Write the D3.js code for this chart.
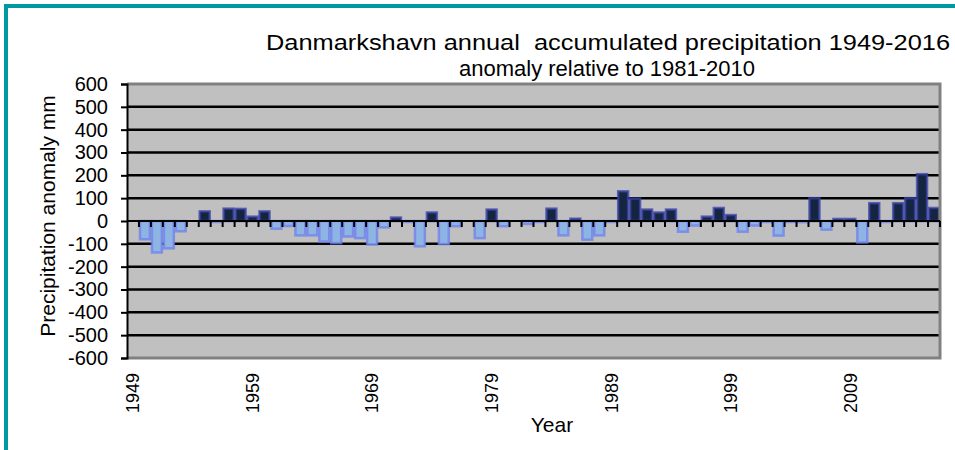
<!DOCTYPE html>
<html>
<head>
<meta charset="utf-8">
<script src="https://cdn.jsdelivr.net/npm/d3@7"></script>
<style>
	body { margin: 0; background: #fff; }
	svg { display: block; font-family: "Liberation Sans", Arial, sans-serif; }
</style>
</head>
<body>
<div id="chart"></div>
<script>
///////////////////////////////////////////////////////////////////////////////
//// Data /////////////////////////////////////////////////////////////////////
///////////////////////////////////////////////////////////////////////////////
const years = [
	1949, 1950, 1951, 1952, 1953, 1954, 1955, 1956, 1957, 1958,
	1959, 1960, 1961, 1962, 1963, 1964, 1965, 1966, 1967, 1968,
	1969, 1970, 1971, 1972, 1973, 1974, 1975, 1976, 1977, 1978,
	1979, 1980, 1981, 1982, 1983, 1984, 1985, 1986, 1987, 1988,
	1989, 1990, 1991, 1992, 1993, 1994, 1995, 1996, 1997, 1998,
	1999, 2000, 2001, 2002, 2003, 2004, 2005, 2006, 2007, 2008,
	2009, 2010, 2011, 2012, 2013, 2014, 2015, 2016
];

// anomaly in mm (null = no bar)
const anomaly = [
	null, -80, -138, -120, -45, null, 42, -3, 54, 53,
	19, 42, -34, -22, -63, -63, -90, -97, -68, -75,
	-103, -28, 15, -3, -111, 37, -101, -23, null, -75,
	50, -23, null, -13, -3, 54, -63, 10, -82, -63,
	-3, 130, 98, 50, 37, 50, -47, -20, 19, 57,
	26, -47, -20, -2, -64, -2, -5, 100, -38, 9,
	9, -94, 78, -2, 78, 100, 205, 57
];

const yTicks = [600, 500, 400, 300, 200, 100, 0, -100, -200, -300, -400, -500, -600];
const xLabels = [1949, 1959, 1969, 1979, 1989, 1999, 2009];

const titleLines = [
	"Danmarkshavn annual  accumulated precipitation 1949-2016",
	"anomaly relative to 1981-2010"
];

///////////////////////////////////////////////////////////////////////////////
//// Initial Set Up ///////////////////////////////////////////////////////////
///////////////////////////////////////////////////////////////////////////////
const W = 955, H = 450;
const margin = {top: 84, right: 15, bottom: 92, left: 127};
const width = W - margin.left - margin.right;   // 813
const height = H - margin.top - margin.bottom;  // 274

const color = {
	pos: "#14253f", posStroke: "#3a40a8",
	neg: "#8db4e2", negStroke: "#6f80ee",
	plot: "#c0c0c0", border: "#808080", frame: "#0099a3"
};

const data = years.map((y, i) => ({year: y, value: anomaly[i]}));

// Scales
const x = d3.scaleBand().domain(years).range([0, width]).padding(0);
const y = d3.scaleLinear().domain([-600, 600]).range([height, 0]);

const svg = d3.select("#chart").append("svg")
	.attr("width", W)
	.attr("height", H);

///////////////////////////////////////////////////////////////////////////////
// Outer teal frame
svg.append("rect")
	.attr("x", 6).attr("y", 6)
	.attr("width", W + 20).attr("height", H + 20)
	.style("fill", "none")
	.style("stroke", color.frame)
	.style("stroke-width", 4);

///////////////////////////////////////////////////////////////////////////////
// Title
svg.append("text")
	.attr("x", 266).attr("y", 50)
	.attr("textLength", 684)
	.attr("lengthAdjust", "spacingAndGlyphs")
	.style("white-space", "pre")
	.style("font-size", "22px")
	.text(titleLines[0]);

svg.append("text")
	.attr("x", 607).attr("y", 76)
	.style("text-anchor", "middle")
	.style("font-size", "22px")
	.text(titleLines[1]);

const g = svg.append("g")
	.attr("transform", `translate(${margin.left}, ${margin.top})`);

///////////////////////////////////////////////////////////////////////////////
// Plot area and gridlines
g.append("rect")
	.attr("width", width).attr("height", height)
	.style("fill", color.plot);

g.selectAll(".grid")
	.data(yTicks.filter(d => Math.abs(d) < 600 && d !== 0))
	.enter().append("line")
		.attr("class", "grid")
		.attr("x1", 0).attr("x2", width)
		.attr("y1", d => y(d)).attr("y2", d => y(d))
		.style("stroke", "#000")
		.style("stroke-width", 2.5);

///////////////////////////////////////////////////////////////////////////////
// Bars
g.selectAll(".bar")
	.data(data.filter(d => d.value !== null))
	.enter().append("rect")
		.attr("class", "bar")
		.attr("x", d => x(d.year) + 1)
		.attr("width", x.bandwidth() - 2)
		.attr("y", d => y(Math.max(0, d.value)))
		.attr("height", d => Math.max(1, Math.abs(y(d.value) - y(0))))
		.style("fill", d => d.value >= 0 ? color.pos : color.neg)
		.style("stroke", d => d.value >= 0 ? color.posStroke : color.negStroke)
		.style("stroke-opacity", 0.75)
		.style("stroke-width", 2.5);

///////////////////////////////////////////////////////////////////////////////
// Plot border (top, right, bottom)
g.append("path")
	.attr("d", `M0,0H${width}V${height}H0`)
	.style("fill", "none")
	.style("stroke", color.border)
	.style("stroke-width", 3);

///////////////////////////////////////////////////////////////////////////////
// Axes
const yAxis = g.append("g")
	.attr("class", "y axis")
	.call(d3.axisLeft(y).tickValues(yTicks).tickSize(6).tickPadding(13)
		.tickFormat(d => String(d)));
yAxis.select(".domain").style("stroke", "#000").style("stroke-width", 2);
yAxis.selectAll(".tick line").style("stroke", "#000").style("stroke-width", 2);
yAxis.selectAll(".tick text")
	.style("font-size", "20px")
	.style("font-family", "'Liberation Sans', Arial, sans-serif")
	.style("fill", "#000");

// category axis at zero, tick marks between categories
const zero = g.append("g").attr("class", "x axis");
zero.append("line")
	.attr("x1", 0).attr("x2", width)
	.attr("y1", y(0)).attr("y2", y(0))
	.style("stroke", "#000")
	.style("stroke-width", 2);
zero.selectAll(".tick")
	.data(years)
	.enter().append("line")
		.attr("class", "tick")
		.attr("x1", d => x(d) + x.bandwidth())
		.attr("x2", d => x(d) + x.bandwidth())
		.attr("y1", y(0)).attr("y2", y(0) + 6)
		.style("stroke", "#000")
		.style("stroke-width", 2);

// rotated year labels below the plot
g.selectAll(".year-label")
	.data(xLabels)
	.enter().append("text")
		.attr("class", "year-label")
		.attr("transform", d => `translate(${x(d) + x.bandwidth() / 2}, ${height + 15}) rotate(-90)`)
		.attr("dy", "0.35em")
		.style("text-anchor", "end")
		.style("font-size", "18px")
		.text(d => d);

///////////////////////////////////////////////////////////////////////////////
// Axis titles
svg.append("text")
	.attr("transform", `translate(55, ${margin.top + height / 2 - 5}) rotate(-90)`)
	.style("text-anchor", "middle")
	.style("font-size", "21px")
	.text("Precipitation anomaly mm");

svg.append("text")
	.attr("x", 552).attr("y", 432)
	.style("text-anchor", "middle")
	.style("font-size", "21px")
	.text("Year");
</script>
</body>
</html>
